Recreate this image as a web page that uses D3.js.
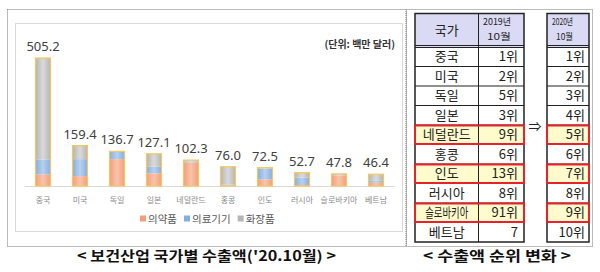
<!DOCTYPE html>
<html>
<head>
<meta charset="utf-8">
<script src="https://cdn.jsdelivr.net/npm/d3@7"></script>
<style>
  body { margin: 0; background: #fff; }
  text { font-family: "Noto Sans CJK KR", "Noto Sans", sans-serif; }
</style>
</head>
<body>
<div id="chart"></div>
<script>
// values (million USD)
let countries = ["중국", "미국", "독일", "일본", "네덜란드", "홍콩", "인도", "러시아", "슬로바키아", "베트남"];
let totals = [505.2, 159.4, 136.7, 127.1, 102.3, 76.0, 72.5, 52.7, 47.8, 46.4];
let pharma = [46, 39, 106, 50, 93, 2, 26, 4, 42, 13];
let devices = [59, 67, 29, 26, 4, 4, 43, 29, 0.8, 8];
let cosmetics = [400.2, 53.4, 1.7, 51.1, 5.3, 70.0, 3.5, 19.7, 5.0, 25.4];
let seriesNames = ["의약품", "의료기기", "화장품"];

let rank2019 = ["1위", "2위", "5위", "3위", "9위", "6위", "13위", "8위", "91위", "7"];
let rank2020 = ["1위", "2위", "3위", "4위", "5위", "6위", "7위", "8위", "9위", "10위"];
let movedUp = ["네덜란드", "인도", "슬로바키아"];

let svg = d3.select("#chart").append("svg")
  .attr("width", 600)
  .attr("height", 272);

svg.append("rect").attr("width", 600).attr("height", 272).attr("fill", "#fff");

// gradients
let colors = [["#f29e7c", "#f9c4aa"], ["#86aee0", "#b7d0ee"], ["#b5b5b5", "#dadada"]];
let defs = svg.append("defs");
colors.forEach(function(c, i){
  let g = defs.append("linearGradient").attr("id", "g" + i)
    .attr("x1", 0).attr("x2", 1).attr("y1", 0).attr("y2", 0);
  g.append("stop").attr("offset", "0%").attr("stop-color", c[0]);
  g.append("stop").attr("offset", "50%").attr("stop-color", c[1]);
  g.append("stop").attr("offset", "100%").attr("stop-color", c[0]);
});

// panels
svg.append("rect").attr("x", 7.5).attr("y", 9.5).attr("width", 398.5).attr("height", 237)
  .attr("fill", "none").attr("stroke", "#777").attr("stroke-dasharray", "1,1");
svg.append("rect").attr("x", 406.5).attr("y", 9.5).attr("width", 186).attr("height", 237)
  .attr("fill", "none").attr("stroke", "#777").attr("stroke-dasharray", "1,1");
svg.append("rect").attr("x", 15.5).attr("y", 23.5).attr("width", 387).attr("height", 208)
  .attr("fill", "#fff").attr("stroke", "#d9d9d9");

// scales
let x = d3.scaleBand().domain(countries).range([24.5, 394.5])
  .paddingInner(22 / 37).paddingOuter(11 / 37);
let y = d3.scaleLinear().domain([0, 600]).range([186, 34]);

let rows = countries.map(function(c, i){
  return { country: c, s0: pharma[i], s1: devices[i], s2: cosmetics[i], total: totals[i] };
});
let stack = d3.stack().keys(["s0", "s1", "s2"]);
let layers = stack(rows);

svg.append("line").attr("x1", 25).attr("x2", 395).attr("y1", 186.5).attr("y2", 186.5)
  .attr("stroke", "#d9d9d9");

svg.selectAll("g.layer").data(layers).enter().append("g")
  .attr("class", "layer")
  .attr("fill", function(d, i){ return "url(#g" + i + ")"; })
  .selectAll("rect").data(function(d){ return d; }).enter().append("rect")
    .attr("x", function(d){ return x(d.data.country); })
    .attr("width", x.bandwidth())
    .attr("y", function(d){ return y(d[1]); })
    .attr("height", function(d){ return y(d[0]) - y(d[1]); });

// gold outline around each column
svg.selectAll("rect.outline").data(rows).enter().append("rect")
  .attr("class", "outline")
  .attr("x", function(d){ return x(d.country); })
  .attr("width", x.bandwidth())
  .attr("y", function(d){ return y(d.total); })
  .attr("height", function(d){ return y(0) - y(d.total); })
  .attr("fill", "none").attr("stroke", "#f3c85e").attr("stroke-width", 1.2);

// value labels
svg.selectAll("text.val").data(rows).enter().append("text")
  .attr("class", "val")
  .attr("x", function(d){ return x(d.country) + x.bandwidth() / 2; })
  .attr("y", function(d){ return y(d.total) - 7; })
  .attr("text-anchor", "middle")
  .style("font-family", "'Noto Sans', sans-serif")
  .attr("font-size", 13).attr("fill", "#404040")
  .text(function(d){ return d.total.toFixed(1); });

// category labels
svg.selectAll("text.cat").data(countries).enter().append("text")
  .attr("class", "cat")
  .attr("x", function(d){ return x(d) + x.bandwidth() / 2; })
  .attr("y", 203)
  .attr("text-anchor", "middle")
  .attr("font-size", 8).attr("fill", "#8a8a8a")
  .text(function(d){ return d; });

// legend
let lx = 140;
seriesNames.forEach(function(name, i){
  svg.append("rect").attr("x", lx).attr("y", 215.5).attr("width", 6).attr("height", 6)
    .attr("fill", colors[i][0]);
  let t = svg.append("text").attr("x", lx + 8).attr("y", 222.5)
    .attr("font-size", 10.5).attr("fill", "#595959").text(name);
  lx += 8 + t.node().getComputedTextLength() + 7;
});

svg.append("text").attr("x", 395).attr("y", 48).attr("text-anchor", "end")
  .attr("font-size", 10).attr("font-weight", "bold").attr("fill", "#333")
  .text("(단위: 백만 달러)");

// captions
svg.append("text").attr("x", 77).attr("y", 261)
  .attr("textLength", 259).attr("lengthAdjust", "spacingAndGlyphs")
  .attr("font-size", 14).attr("font-weight", "bold").attr("fill", "#111")
  .text("< 보건산업  국가별  수출액('20.10월) >");
svg.append("text").attr("x", 423).attr("y", 261)
  .attr("textLength", 148).attr("lengthAdjust", "spacingAndGlyphs")
  .attr("font-size", 14).attr("font-weight", "bold").attr("fill", "#111")
  .text("< 수출액  순위  변화 >");

// ranking tables
let tTop = 13.5, headBottom = 47, rowH = 19.5;
let t1 = [415, 478.5, 524], t2 = [547, 589];
let rowY = function(i){ return headBottom + i * rowH; };

// header fills
svg.append("rect").attr("x", t1[0]).attr("y", tTop).attr("width", t1[2] - t1[0]).attr("height", headBottom - tTop)
  .attr("fill", "#dadaf4");
svg.append("rect").attr("x", t2[0]).attr("y", tTop).attr("width", t2[1] - t2[0]).attr("height", headBottom - tTop)
  .attr("fill", "#dadaf4");

// highlighted rows
countries.forEach(function(c, i){
  if (movedUp.indexOf(c) < 0) return;
  svg.append("rect").attr("x", t1[0]).attr("y", rowY(i)).attr("width", t1[2] - t1[0]).attr("height", rowH)
    .attr("fill", "#fffbcc");
  svg.append("rect").attr("x", t2[0]).attr("y", rowY(i)).attr("width", t2[1] - t2[0]).attr("height", rowH)
    .attr("fill", "#fffbcc");
});

// grid lines
let lines = svg.append("g").attr("stroke", "#222").attr("stroke-width", 1);
countries.forEach(function(c, i){
  if (i == 0) return;
  lines.append("line").attr("x1", t1[0]).attr("x2", t1[2]).attr("y1", rowY(i)).attr("y2", rowY(i));
  lines.append("line").attr("x1", t2[0]).attr("x2", t2[1]).attr("y1", rowY(i)).attr("y2", rowY(i));
});
[headBottom - 1.5, headBottom + 0.5].forEach(function(yy){
  lines.append("line").attr("x1", t1[0]).attr("x2", t1[2]).attr("y1", yy).attr("y2", yy);
  lines.append("line").attr("x1", t2[0]).attr("x2", t2[1]).attr("y1", yy).attr("y2", yy);
});
lines.append("line").attr("x1", t1[1]).attr("x2", t1[1]).attr("y1", tTop).attr("y2", rowY(10));
lines.append("rect").attr("x", t1[0]).attr("y", tTop).attr("width", t1[2] - t1[0]).attr("height", rowY(10) - tTop)
  .attr("fill", "none").attr("stroke-width", 1.5);
lines.append("rect").attr("x", t2[0]).attr("y", tTop).attr("width", t2[1] - t2[0]).attr("height", rowY(10) - tTop)
  .attr("fill", "none").attr("stroke-width", 1.5);

// red boxes
countries.forEach(function(c, i){
  if (movedUp.indexOf(c) < 0) return;
  svg.append("rect").attr("x", t1[0]).attr("y", rowY(i) + 0.5).attr("width", t1[2] - t1[0]).attr("height", rowH - 1)
    .attr("fill", "none").attr("stroke", "#e8212a").attr("stroke-width", 2);
  svg.append("rect").attr("x", t2[0]).attr("y", rowY(i) + 0.5).attr("width", t2[1] - t2[0]).attr("height", rowH - 1)
    .attr("fill", "none").attr("stroke", "#e8212a").attr("stroke-width", 2);
});

// header text
svg.append("text").attr("x", (t1[0] + t1[1]) / 2).attr("y", 35).attr("text-anchor", "middle")
  .attr("font-size", 13).attr("fill", "#222").text("국가");
[["2019년", 28, 511], ["2020년", 21, 573]].forEach(function(h){
  svg.append("text").attr("x", h[2]).attr("y", 25).attr("text-anchor", "end")
    .attr("font-size", 9.5).attr("fill", "#222")
    .attr("textLength", h[1]).attr("lengthAdjust", "spacingAndGlyphs").text(h[0]);
  svg.append("text").attr("x", h[2]).attr("y", 39.5).attr("text-anchor", "end")
    .attr("font-size", 9.5).attr("fill", "#222")
    .attr("textLength", h[1] - 4).attr("lengthAdjust", "spacingAndGlyphs").text("10월");
});

// body text
svg.selectAll("text.cty").data(countries).enter().append("text")
  .attr("class", "cty")
  .attr("x", (t1[0] + t1[1]) / 2)
  .attr("y", function(d, i){ return rowY(i) + rowH / 2 + 4.5; })
  .attr("text-anchor", "middle")
  .attr("font-size", 13).attr("fill", "#222")
  .each(function(d){ if (d.length > 4) d3.select(this).attr("textLength", 43).attr("lengthAdjust", "spacingAndGlyphs"); })
  .text(function(d){ return d; });

svg.selectAll("text.r19").data(rank2019).enter().append("text")
  .attr("class", "r19")
  .attr("x", 518)
  .attr("y", function(d, i){ return rowY(i) + rowH / 2 + 4.5; })
  .attr("text-anchor", "end")
  .attr("font-size", 13).attr("fill", "#222")
  .text(function(d){ return d; });

svg.selectAll("text.r20").data(rank2020).enter().append("text")
  .attr("class", "r20")
  .attr("x", 585)
  .attr("y", function(d, i){ return rowY(i) + rowH / 2 + 4.5; })
  .attr("text-anchor", "end")
  .attr("font-size", 13).attr("fill", "#222")
  .text(function(d){ return d; });

svg.append("text").attr("x", 535).attr("y", 131).attr("text-anchor", "middle")
  .attr("font-size", 13).attr("fill", "#222").text("⇒");
</script>
</body>
</html>
